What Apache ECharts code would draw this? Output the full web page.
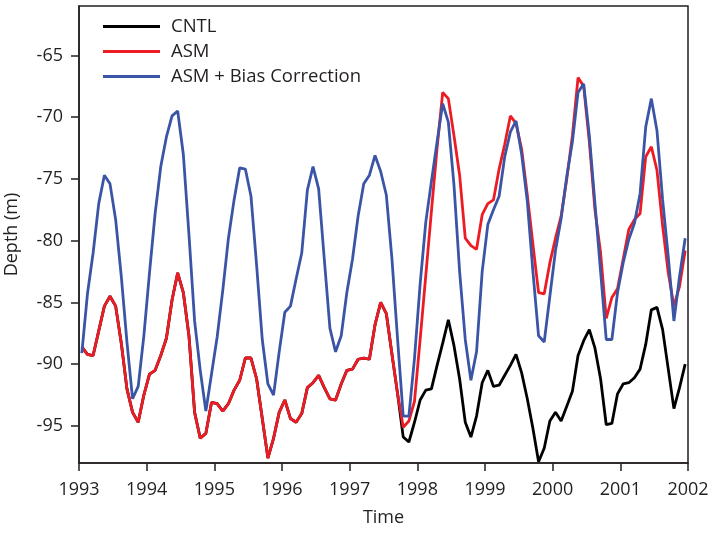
<!DOCTYPE html>
<html>
<head>
<meta charset="utf-8">
<script src="https://cdn.jsdelivr.net/npm/echarts@6/dist/echarts.min.js"></script>
<style>
html,body{margin:0;padding:0;background:#fff;}
#chart{width:713px;height:537px;}
</style>
</head>
<body>
<div id="chart"></div>
<script>
// Monthly samples, Jan 1993 .. Dec 2001 (plotted at mid-month)
const startYear = 1993;
const yearTicks = [1993, 1994, 1995, 1996, 1997, 1998, 1999, 2000, 2001, 2002];
const depthTicks = [-95, -90, -85, -80, -75, -70, -65];

const asm = [
  -88.6, -89.2, -89.3, -87.3, -85.3, -84.5, -85.3, -88.3, -92.0, -93.9, -94.7, -92.5,
  -90.8, -90.5, -89.3, -87.9, -84.8, -82.6, -84.2, -87.7, -93.9, -96.0, -95.6, -93.1,
  -93.2, -93.8, -93.2, -92.1, -91.3, -89.5, -89.5, -91.2, -94.4, -97.6, -96.0, -93.9,
  -92.9, -94.4, -94.7, -94.0, -91.9, -91.5, -90.9, -91.9, -92.8, -92.9, -91.6, -90.5,
  -90.4, -89.6, -89.5, -89.6, -86.8, -85.0, -85.9, -89.2, -92.4, -95.1, -94.6, -93.0,
  -88.0, -82.8, -77.6, -72.5, -68.0, -68.5, -71.5, -74.7, -79.8, -80.4, -80.7, -77.9,
  -77.0, -76.7, -74.2, -72.2, -69.9, -70.5, -72.6, -76.3, -80.3, -84.2, -84.3, -81.8,
  -79.8, -78.0, -75.0, -71.5, -66.8, -67.5, -72.0, -77.5, -81.0, -86.3, -84.6, -83.9,
  -81.5, -79.1, -78.3, -77.8, -73.2, -72.4, -74.3, -78.8, -82.6, -85.3, -83.7, -80.8
];

const asmBias = [
  -89.1, -84.3, -81.0, -77.0, -74.7, -75.4, -78.3, -82.9, -88.2, -92.8, -91.8, -87.7,
  -82.6, -77.8, -74.0, -71.6, -69.9, -69.5, -73.0, -79.5, -86.5, -90.5, -93.8, -90.8,
  -87.8, -84.0, -79.8, -76.7, -74.1, -74.2, -76.4, -82.0, -88.0, -91.6, -92.5, -89.0,
  -85.8, -85.3, -83.1, -81.0, -75.9, -74.0, -75.8, -81.5, -87.1, -89.0, -87.7, -84.2,
  -81.5, -78.0, -75.4, -74.7, -73.1, -74.4, -76.3, -81.5, -88.0, -94.2, -94.2, -89.5,
  -83.5, -78.5, -75.2, -72.0, -68.9, -70.4, -75.5, -82.5, -88.0, -91.3, -89.0, -82.5,
  -78.7, -77.5, -76.4, -73.2, -71.2, -70.3, -73.0, -76.8, -82.5, -87.7, -88.2, -84.5,
  -80.8, -78.2, -74.8, -72.0, -68.0, -67.3, -71.5, -77.0, -82.5, -88.0, -88.0, -84.2,
  -81.8, -79.9, -78.6, -76.2, -70.8, -68.5, -71.1, -76.7, -81.3, -86.5, -82.9, -79.8
];

const cntl = [
  -88.6, -89.2, -89.3, -87.3, -85.3, -84.5, -85.3, -88.3, -92.0, -93.9, -94.7, -92.5,
  -90.8, -90.5, -89.3, -87.9, -84.8, -82.6, -84.2, -87.7, -93.9, -96.0, -95.6, -93.1,
  -93.2, -93.8, -93.2, -92.1, -91.3, -89.5, -89.5, -91.2, -94.4, -97.6, -96.0, -93.9,
  -92.9, -94.4, -94.7, -94.0, -91.9, -91.5, -90.9, -91.9, -92.8, -92.9, -91.6, -90.5,
  -90.4, -89.6, -89.5, -89.6, -86.8, -85.0, -85.9, -89.2, -92.4, -95.9, -96.3, -94.7,
  -92.9, -92.1, -92.0, -90.1, -88.3, -86.4, -88.5, -91.2, -94.7, -95.9, -94.2, -91.5,
  -90.5, -91.8, -91.7, -90.9, -90.1, -89.2, -90.7, -92.8, -95.2, -97.9, -96.8, -94.6,
  -93.9, -94.6, -93.4, -92.2, -89.3, -88.1, -87.2, -88.7, -91.2, -94.9, -94.8, -92.4,
  -91.6, -91.5, -91.1, -90.4, -88.4, -85.6, -85.4, -87.2, -90.4, -93.6, -91.9, -90.0
];

const seriesNames = ['CNTL', 'ASM', 'ASM + Bias Correction'];
const seriesColors = ['#000000', '#ed1c24', '#3b55a6'];

function toPairs(values) {
  return values.map((v, i) => [startYear + (i + 0.5) / 12, v]);
}

const textColor = '#231f20';
const fontFam = 'Open Sans, Liberation Sans, sans-serif';

const chart = echarts.init(document.getElementById('chart'), null, {renderer: 'canvas'});
chart.setOption({
  animation: false,
  backgroundColor: '#ffffff',
  grid: {
    left: 79, right: 25, top: 6, bottom: 74,
    containLabel: false,
    outerBoundsMode: 'none',
    show: true, borderColor: textColor, borderWidth: 1.5, backgroundColor: 'transparent'
  },
  legend: {
    orient: 'vertical',
    left: 103, top: 17,
    padding: 0,
    itemWidth: 57, itemHeight: 3,
    itemGap: 6,
    icon: 'rect',
    data: seriesNames,
    textStyle: {fontFamily: fontFam, fontSize: 18.5, color: textColor, lineHeight: 18, padding: [0, 0, 0, 6]}
  },
  xAxis: {
    type: 'value',
    min: yearTicks[0], max: yearTicks[yearTicks.length - 1], interval: 1,
    name: 'Time', nameLocation: 'middle', nameGap: 46,
    nameTextStyle: {fontFamily: fontFam, fontSize: 18, color: textColor},
    axisLine: {show: true, onZero: false, lineStyle: {color: textColor, width: 1.5}},
    axisTick: {show: true, inside: false, length: 8, lineStyle: {color: textColor, width: 1.5}},
    axisLabel: {margin: 18, fontFamily: fontFam, fontSize: 18, color: textColor,
      formatter: v => String(Math.round(v))},
    splitLine: {show: false}
  },
  yAxis: {
    type: 'value',
    min: -98, max: -61,
    name: 'Depth (m)', nameLocation: 'middle', nameGap: 58, nameRotate: 90,
    nameTextStyle: {fontFamily: fontFam, fontSize: 18, color: textColor},
    axisLine: {show: true, onZero: false, lineStyle: {color: textColor, width: 1.5}},
    axisTick: {show: true, inside: false, length: 8, customValues: depthTicks, lineStyle: {color: textColor, width: 1.5}},
    axisLabel: {margin: 16, fontFamily: fontFam, fontSize: 18, color: textColor, customValues: depthTicks},
    splitLine: {show: false}
  },
  series: [
    {name: seriesNames[0], type: 'line', data: toPairs(cntl), showSymbol: false, symbol: 'none',
      lineStyle: {color: seriesColors[0], width: 2.8}, itemStyle: {color: seriesColors[0]}, z: 2},
    {name: seriesNames[1], type: 'line', data: toPairs(asm), showSymbol: false, symbol: 'none',
      lineStyle: {color: seriesColors[1], width: 2.8}, itemStyle: {color: seriesColors[1]}, z: 3},
    {name: seriesNames[2], type: 'line', data: toPairs(asmBias), showSymbol: false, symbol: 'none',
      lineStyle: {color: seriesColors[2], width: 2.8}, itemStyle: {color: seriesColors[2]}, z: 4}
  ]
});
</script>
</body>
</html>
